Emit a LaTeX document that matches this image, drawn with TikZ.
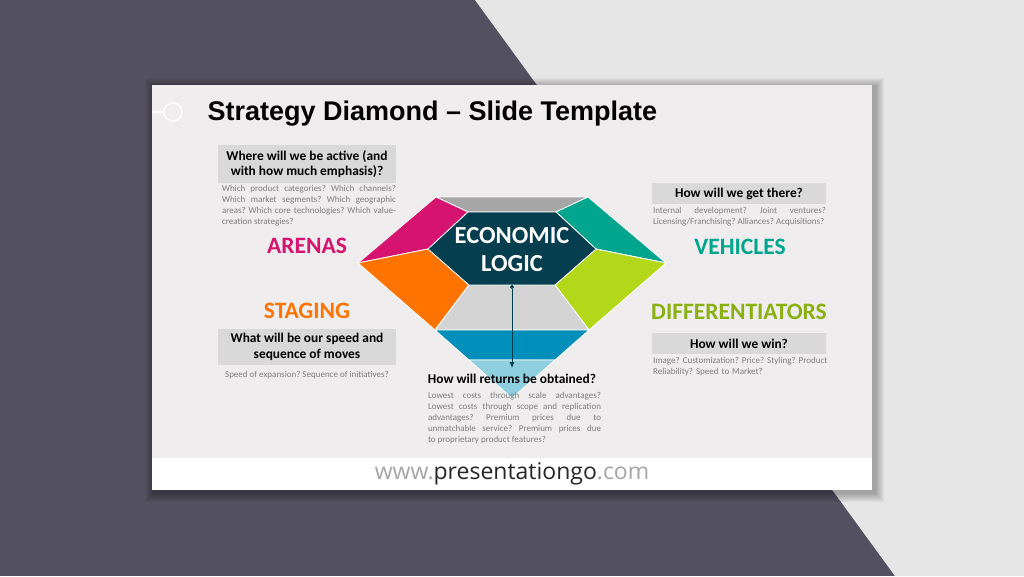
\documentclass[tikz,border=0pt]{standalone}
\usepackage{fontspec}
\setmainfont{Carlito}
\newfontfamily\titlefont{Liberation Sans}
\newfontfamily\webfont{Open Sans}
\usepackage{tikz}
\usetikzlibrary{arrows.meta}
\frenchspacing
\hyphenpenalty=10000

\definecolor{bgdark}{HTML}{53515F}
\definecolor{bglight}{HTML}{E6E6E6}
\definecolor{slidebg}{HTML}{EFEDEE}
\definecolor{boxgray}{HTML}{D9D9D9}
\definecolor{bodygray}{HTML}{7F7F7F}
\definecolor{arenapink}{HTML}{D6136E}
\definecolor{stageorange}{HTML}{FF7400}
\definecolor{vehicleteal}{HTML}{00A58E}
\definecolor{difflime}{HTML}{B3D81A}
\definecolor{difftext}{HTML}{8AB011}
\definecolor{topgray}{HTML}{A6A6A6}
\definecolor{midgray}{HTML}{D4D4D4}
\definecolor{hexdark}{HTML}{053E4E}
\definecolor{returnblue}{HTML}{008EBB}
\definecolor{returnlight}{HTML}{8ECFE0}
\definecolor{webgray}{HTML}{A6A6A6}
\definecolor{webdark}{HTML}{262626}

\begin{document}
\begin{tikzpicture}[x=1pt,y=-1pt,
  heading/.style={fill=boxgray, text=black, font=\bfseries\fontsize{13.4}{15.5}\selectfont, align=center, inner sep=0pt},
  bodytext/.style={text=bodygray, font=\fontsize{9}{11}\selectfont, inner sep=0pt},
  bigword/.style={font=\bfseries\fontsize{23.5}{26}\selectfont},
  facet/.style={draw=white, line width=0.8pt, line join=round}]
  \useasboundingbox (0,0) rectangle (1024,576);

  % background and slide
  \fill[bgdark] (0,0) rectangle (1024,576);
  \fill[bglight] (475,0) -- (1024,0) -- (1024,576) -- (895,576) -- cycle;
  \foreach \s in {1,...,9}
    \fill[black, opacity=0.035] (154-\s,87-\s) rectangle (875+\s,493+\s);
  \fill[slidebg] (152,85) rectangle (872,490);
  \fill[white] (152,458) rectangle (872,490);
  \draw[white, line width=1.5pt] (152,112) -- (164,112);
  \draw[white, line width=1.5pt] (173,112) circle (9);

  \node[anchor=west, font=\titlefont\bfseries\fontsize{27}{30}\selectfont] (title) at (204,114) {Strategy Diamond – Slide Template};

  % diamond
  \coordinate (tl) at (436,197);
  \coordinate (tr) at (588,197);
  \coordinate (l) at (358,263);
  \coordinate (r) at (666,263);
  \coordinate (hl) at (468,212);
  \coordinate (hr) at (556,212);
  \coordinate (hml) at (428,249);
  \coordinate (hmr) at (596,249);
  \coordinate (hbl) at (469,285);
  \coordinate (hbr) at (555,285);
  \coordinate (ol) at (435,330);
  \coordinate (or) at (589,330);
  \coordinate (bl) at (469,360);
  \coordinate (br) at (555,360);
  \coordinate (bot) at (512,398);

  \fill[topgray, facet] (tl) -- (tr) -- (hr) -- (hl) -- cycle;
  \fill[arenapink, facet] (tl) -- (hl) -- (hml) -- (l) -- cycle;
  \fill[stageorange, facet] (l) -- (hml) -- (hbl) -- (ol) -- cycle;
  \fill[vehicleteal, facet] (tr) -- (r) -- (hmr) -- (hr) -- cycle;
  \fill[difflime, facet] (r) -- (or) -- (hbr) -- (hmr) -- cycle;
  \fill[midgray, facet] (hbl) -- (hbr) -- (or) -- (ol) -- cycle;
  \fill[returnblue, facet] (ol) -- (or) -- (br) -- (bl) -- cycle;
  \fill[returnlight, facet] (bl) -- (br) -- (bot) -- cycle;
  \fill[hexdark, facet] (hl) -- (hr) -- (hmr) -- (hbr) -- (hbl) -- (hml) -- cycle;

  \node[text=white, align=center, font=\bfseries\fontsize{24.5}{28}\selectfont] (logic) at (512,250) {ECONOMIC\\LOGIC};
  \coordinate (hexbot) at (512,285);
  \coordinate (retend) at (512,368);
  \draw[hexdark, line width=1pt, {Circle[length=4pt]}-{Latex[length=6pt,width=5pt]}] (hexbot) -- (retend);

  % left side
  \node[heading, minimum width=178, minimum height=38] (arenaq) at (307,164) {Where will we be active (and\\with how much emphasis)?};
  \node[bodytext, anchor=north, text width=174, align=justify] (arenatxt) at (309,185) {Which product categories? Which channels? Which market segments? Which geographic areas? Which core technologies? Which value-creation strategies?};
  \node[bigword, text=arenapink] (arenas) at (307,246) {ARENAS};

  \node[bigword, text=stageorange] (staging) at (307,311) {STAGING};
  \node[heading, minimum width=178, minimum height=36] (stageq) at (307,347) {What will be our speed and\\sequence of moves};
  \node[bodytext] (stagetxt) at (307,375) {Speed of expansion? Sequence of initiatives?};

  % right side
  \node[heading, minimum width=174, minimum height=21] (vehicleq) at (739,193.5) {How will we get there?};
  \node[bodytext, anchor=north, text width=173, align=justify] (vehicletxt) at (739.5,207) {Internal development? Joint ventures? Licensing/Franchising? Alliances? Acquisitions?};
  \node[bigword, text=vehicleteal] (vehicles) at (740,247) {VEHICLES};

  \node[bigword, text=difftext] (diffs) at (739,312) {DIFFERENTIATORS};
  \node[heading, minimum width=174, minimum height=21] (diffq) at (739,343.5) {How will we win?};
  \node[bodytext, anchor=north west, text width=176, align=left] (difftxt) at (653,357) {Image? Customization? Price? Styling? Product Reliability? Speed to Market?};

  % bottom
  \node[font=\bfseries\fontsize{13.4}{15.5}\selectfont] (returnq) at (512,379) {How will returns be obtained?};
  \node[bodytext, anchor=north, text width=173, align=justify] (returntxt) at (514.5,392) {Lowest costs through scale advantages? Lowest costs through scope and replication advantages? Premium prices due to unmatchable service? Premium prices due to proprietary product features?};

  \node[font=\webfont\fontsize{23}{26}\selectfont] (web) at (512,474) {\textcolor{webgray}{www.}\textcolor{webdark}{presentationgo}\textcolor{webgray}{.com}};
\end{tikzpicture}
\end{document}
